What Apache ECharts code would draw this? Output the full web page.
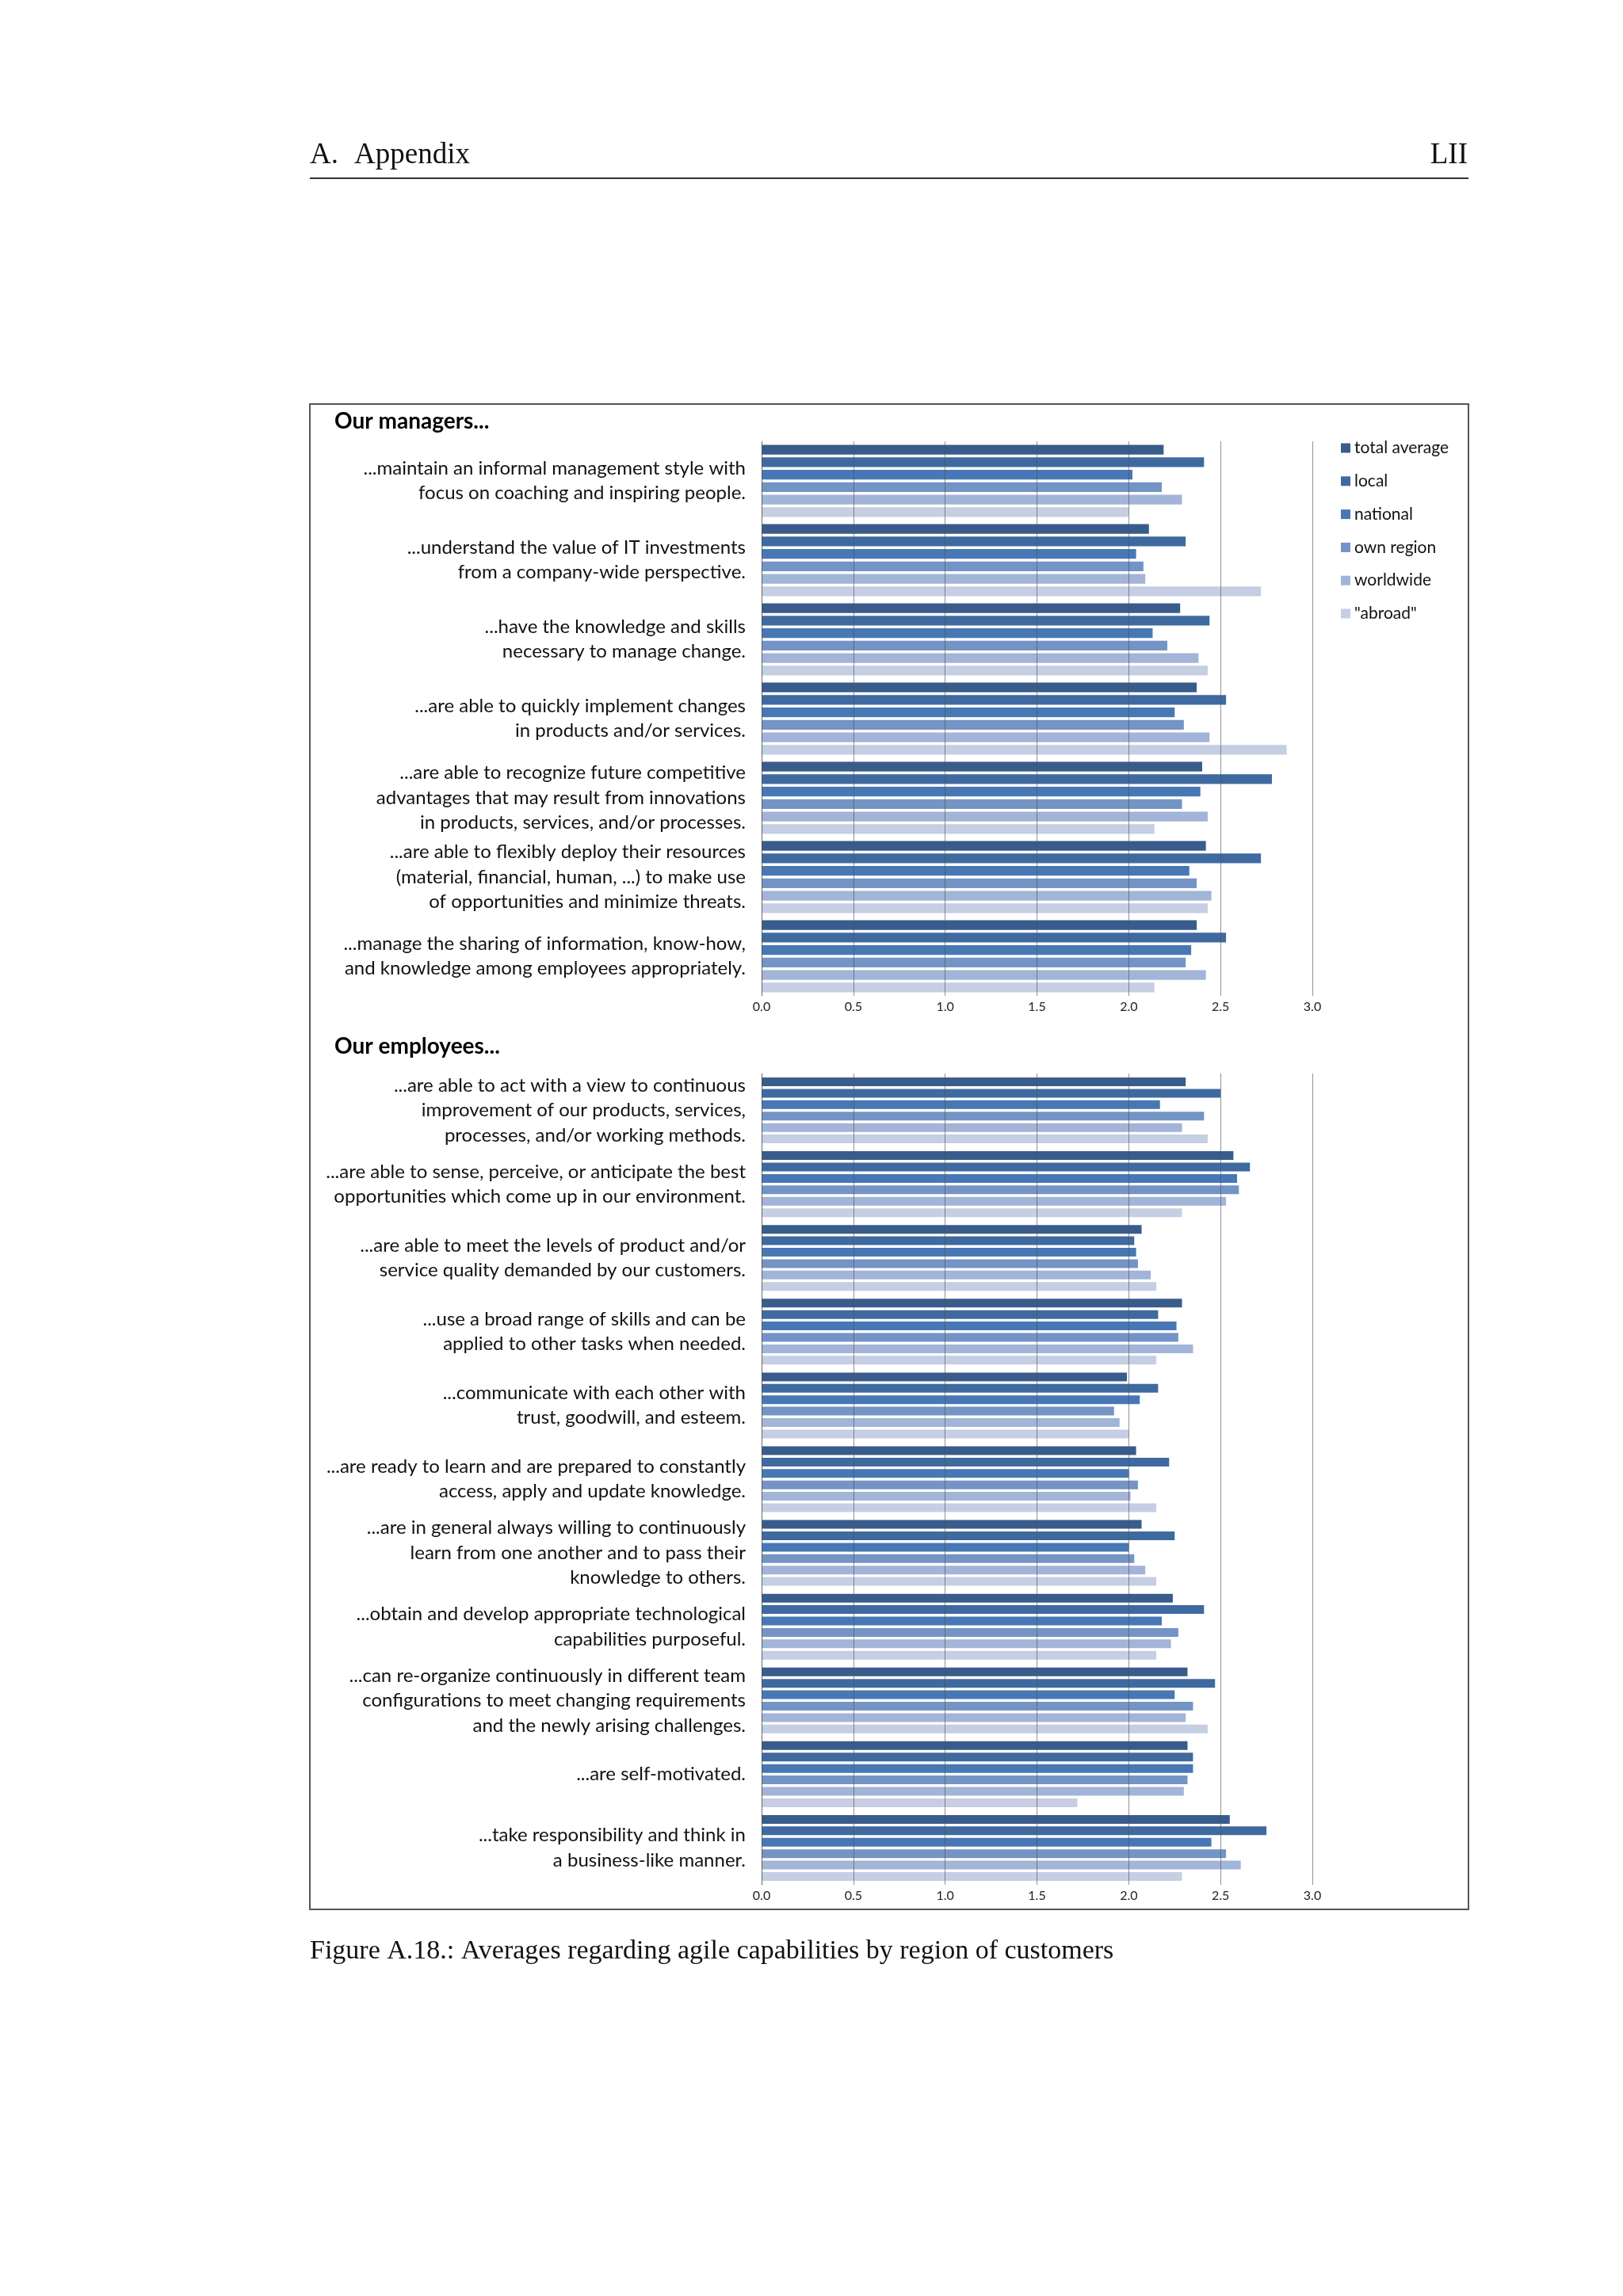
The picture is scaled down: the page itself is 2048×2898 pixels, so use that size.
<!DOCTYPE html>
<html>
<head>
<meta charset="utf-8">
<script src="https://cdn.jsdelivr.net/npm/echarts@6/dist/echarts.min.js"></script>
<style>
html,body{margin:0;padding:0;background:#fff;}
#chart{width:2048px;height:2898px;}
</style>
</head>
<body>
<div id="chart"></div>
<script>
// ---------- data ----------
const seriesNames = ['total average', 'local', 'national', 'own region', 'worldwide', '"abroad"'];

const managerLabels = [
  '...maintain an informal management style with\nfocus on coaching and inspiring people.',
  '...understand the value of IT investments\nfrom a company-wide perspective.',
  '...have the knowledge and skills\nnecessary to manage change.',
  '...are able to quickly implement changes\nin products and/or services.',
  '...are able to recognize future competitive\nadvantages that may result from innovations\nin products, services, and/or processes.',
  '...are able to flexibly deploy their resources\n(material, financial, human, ...) to make use\nof opportunities and minimize threats.',
  '...manage the sharing of information, know-how,\nand knowledge among employees appropriately.'
];
const managersTotal     = [2.19, 2.11, 2.28, 2.37, 2.40, 2.42, 2.37];
const managersLocal     = [2.41, 2.31, 2.44, 2.53, 2.78, 2.72, 2.53];
const managersNational  = [2.02, 2.04, 2.13, 2.25, 2.39, 2.33, 2.34];
const managersOwnRegion = [2.18, 2.08, 2.21, 2.30, 2.29, 2.37, 2.31];
const managersWorldwide = [2.29, 2.09, 2.38, 2.44, 2.43, 2.45, 2.42];
const managersAbroad    = [2.00, 2.72, 2.43, 2.86, 2.14, 2.43, 2.14];

const employeeLabels = [
  '...are able to act with a view to continuous\nimprovement of our products, services,\nprocesses, and/or working methods.',
  '...are able to sense, perceive, or anticipate the best\nopportunities which come up in our environment.',
  '...are able to meet the levels of product and/or\nservice quality demanded by our customers.',
  '...use a broad range of skills and can be\napplied to other tasks when needed.',
  '...communicate with each other with\ntrust, goodwill, and esteem.',
  '...are ready to learn and are prepared to constantly\naccess, apply and update knowledge.',
  '...are in general always willing to continuously\nlearn from one another and to pass their\nknowledge to others.',
  '...obtain and develop appropriate technological\ncapabilities purposeful.',
  '...can re-organize continuously in different team\nconfigurations to meet changing requirements\nand the newly arising challenges.',
  '...are self-motivated.',
  '...take responsibility and think in\na business-like manner.'
];
const employeesTotal     = [2.31, 2.57, 2.07, 2.29, 1.99, 2.04, 2.07, 2.24, 2.32, 2.32, 2.55];
const employeesLocal     = [2.50, 2.66, 2.03, 2.16, 2.16, 2.22, 2.25, 2.41, 2.47, 2.35, 2.75];
const employeesNational  = [2.17, 2.59, 2.04, 2.26, 2.06, 2.00, 2.00, 2.18, 2.25, 2.35, 2.45];
const employeesOwnRegion = [2.41, 2.60, 2.05, 2.27, 1.92, 2.05, 2.03, 2.27, 2.35, 2.32, 2.53];
const employeesWorldwide = [2.29, 2.53, 2.12, 2.35, 1.95, 2.01, 2.09, 2.23, 2.31, 2.30, 2.61];
const employeesAbroad    = [2.43, 2.29, 2.15, 2.15, 2.00, 2.15, 2.15, 2.15, 2.43, 1.72, 2.29];

const xTicks = [0, 0.5, 1, 1.5, 2, 2.5, 3];

// ---------- styling ----------
const palette = ['#395c8c', '#3f6aa0', '#4778b5', '#7394c5', '#a2b4d7', '#c5cee3'];
const sansFont = 'Lato';
const serifFont = 'Liberation Serif';

const managerSeriesData = [managersTotal, managersLocal, managersNational, managersOwnRegion, managersWorldwide, managersAbroad];
const employeeSeriesData = [employeesTotal, employeesLocal, employeesNational, employeesOwnRegion, employeesWorldwide, employeesAbroad];

function makeX(gridIndex) {
  return {
    type: 'value', gridIndex: gridIndex, min: xTicks[0], max: xTicks[xTicks.length - 1], interval: 0.5,
    z: 3,
    axisLine: { show: false }, axisTick: { show: false },
    splitLine: { show: true, lineStyle: { color: 'rgba(80,80,80,0.62)', width: 1 } },
    axisLabel: { fontFamily: sansFont, fontSize: 16, color: '#222', margin: 6,
      formatter: v => v.toFixed(1) }
  };
}
function makeY(gridIndex, labels) {
  return {
    type: 'category', gridIndex: gridIndex, inverse: true, data: labels,
    z: 3,
    axisLine: { show: true, lineStyle: { color: 'rgba(80,80,80,0.62)', width: 1 } },
    axisTick: { show: false },
    axisLabel: { interval: 0, fontFamily: sansFont, fontSize: 24, lineHeight: 31.5, color: '#111',
      align: 'right', margin: 20 }
  };
}

const series = [];
managerSeriesData.forEach((d, i) => series.push({
  name: seriesNames[i], type: 'bar', xAxisIndex: 0, yAxisIndex: 0, data: d,
  barWidth: 12.3, barGap: '28%', itemStyle: { color: palette[i] }
}));
employeeSeriesData.forEach((d, i) => series.push({
  name: seriesNames[i], type: 'bar', xAxisIndex: 1, yAxisIndex: 1, data: d,
  barWidth: 11, barGap: '31%', itemStyle: { color: palette[i] }
}));

const option = {
  backgroundColor: '#ffffff',
  animation: false,
  color: palette,
  grid: [
    { left: 961, width: 695, top: 557, height: 700, containLabel: false },
    { left: 961, width: 695, top: 1355, height: 1024, containLabel: false }
  ],
  xAxis: [makeX(0), makeX(1)],
  yAxis: [makeY(0, managerLabels), makeY(1, employeeLabels)],
  legend: {
    data: seriesNames, orient: 'vertical', left: 1687, top: 550,
    icon: 'rect', itemWidth: 12, itemHeight: 12, itemGap: 20.8,
    textStyle: { fontFamily: sansFont, fontSize: 21, lineHeight: 20, color: '#111' },
    selectedMode: false
  },
  series: series,
  graphic: [
    { type: 'text', left: 391, top: 178, style: { text: 'A.', font: '37px "' + serifFont + '"', fill: '#111' } },
    { type: 'text', left: 447, top: 178, style: { text: 'Appendix', font: '37px "' + serifFont + '"', fill: '#111' } },
    { type: 'text', right: 2048 - 1852, top: 178, style: { text: 'LII', font: '37px "' + serifFont + '"', fill: '#111' } },
    { type: 'line', shape: { x1: 391, y1: 225, x2: 1853, y2: 225 }, style: { stroke: '#333', lineWidth: 2 } },
    { type: 'rect', shape: { x: 391, y: 510, width: 1462, height: 1900 }, style: { fill: 'none', stroke: '#555', lineWidth: 2 }, z: -1 },
    { type: 'text', left: 422, top: 518, style: { text: 'Our managers...', font: 'bold 28px ' + sansFont, fill: '#000' } },
    { type: 'text', left: 422, top: 1307, style: { text: 'Our employees...', font: 'bold 28px ' + sansFont, fill: '#000' } },
    { type: 'text', left: 391, top: 2446, style: { text: 'Figure A.18.: Averages regarding agile capabilities by region of customers', font: '34px "' + serifFont + '"', fill: '#111' } }
  ]
};

const chart = echarts.init(document.getElementById('chart'), null, { renderer: 'canvas', width: 2048, height: 2898 });
chart.setOption(option);
</script>
</body>
</html>
